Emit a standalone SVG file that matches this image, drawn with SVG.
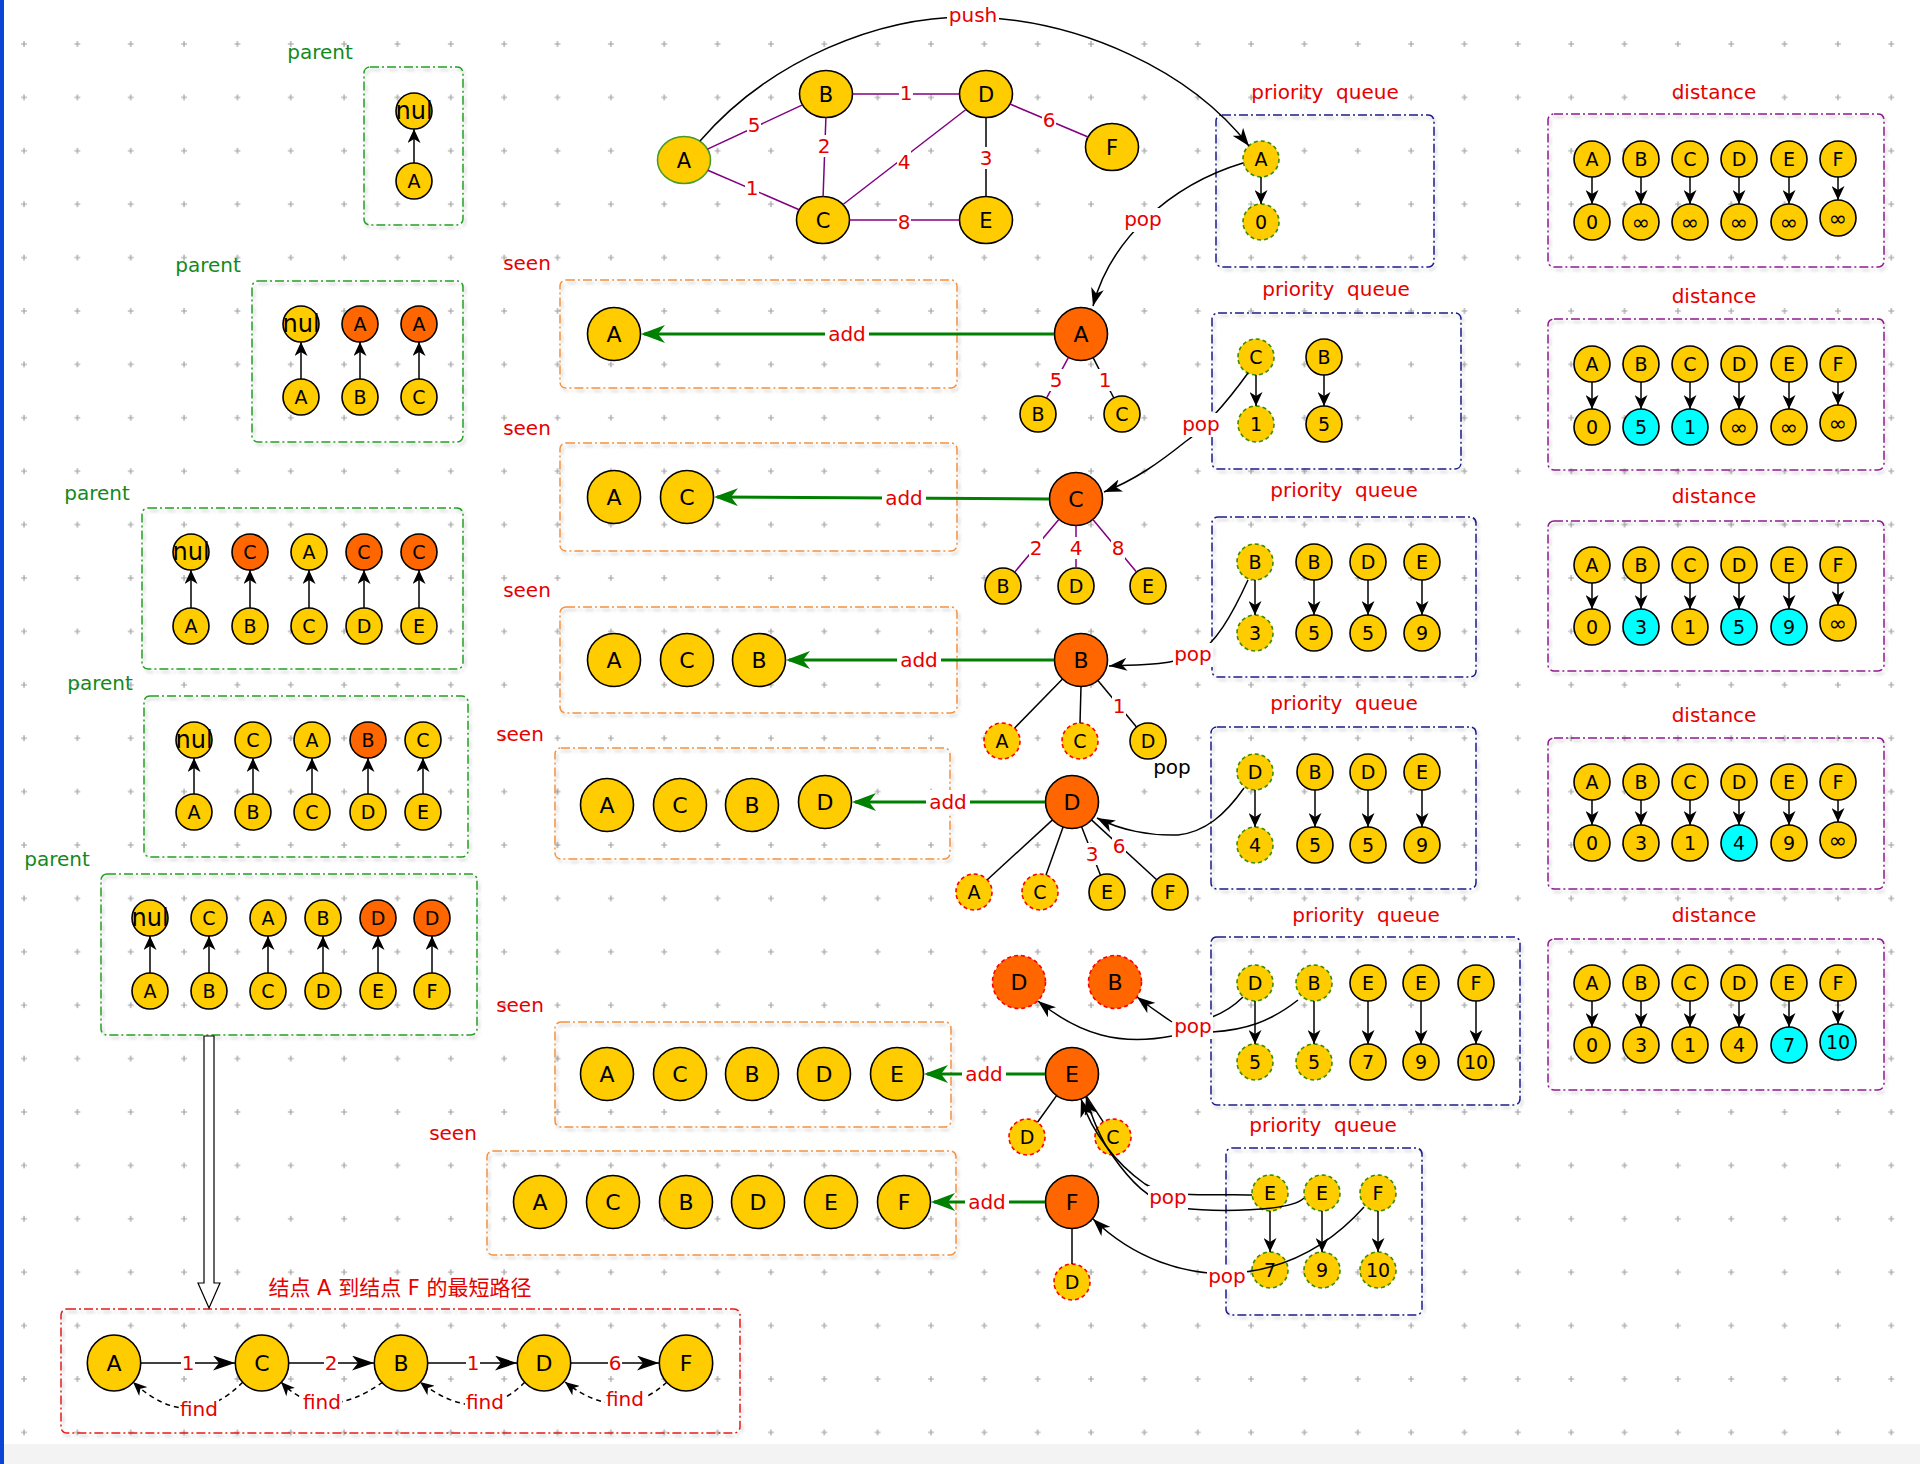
<svg xmlns="http://www.w3.org/2000/svg" width="1920" height="1464" viewBox="0 0 1920 1464">
<style>
text{font-family:"DejaVu Sans","Noto Sans CJK SC",sans-serif;text-anchor:middle;fill:#000}
.y{fill:#ffcc00;stroke:#000;stroke-width:1.6}
.o{fill:#ff6600;stroke:#000;stroke-width:1.6}
.c{fill:#00ffff;stroke:#000;stroke-width:1.6}
.gd{stroke:#3c8c00;stroke-dasharray:4 3}
.rd{stroke:#ff0000;stroke-dasharray:4 3}
.gs{stroke:#4a9a2a}
.s18{font-size:19px}
.s20{font-size:21px}
.s21{font-size:22px}
.nul{font-size:24px}
.inf{font-size:22px}
.lbl{font-size:20px;fill:#e60000}
.blk{font-size:20px;fill:#000}
.grn{font-size:20px;fill:#13891a}
.ttl{font-size:20px;fill:#e60000;white-space:pre}
.bg{fill:#fff}
.ln{fill:none;stroke:#000;stroke-width:1.5}
.pu{fill:none;stroke:#800080;stroke-width:1.5}
.ga{fill:none;stroke:#008000;stroke-width:3}
.dsh{fill:none;stroke:#000;stroke-width:1.5;stroke-dasharray:5 4}
.bx{fill:none;stroke-width:1.5;stroke-dasharray:9 3 2 3;filter:url(#sh)}
.bpar{stroke:#22a022}.bseen{stroke:#f5913e}.bpq{stroke:#1a1a8a}.bdis{stroke:#8e1a8e}.bpath{stroke:#e31b1b}
</style>
<defs>
<pattern id="grid" x="-2.675" y="17.3" width="53.35" height="53.4" patternUnits="userSpaceOnUse"><path d="M23.7,26.7h6M26.7,23.7v6" stroke="#a0a0a0" stroke-width="1.2"/></pattern>
<filter id="sh" x="-5%" y="-5%" width="110%" height="115%"><feDropShadow dx="2" dy="3" stdDeviation="1.5" flood-color="#000" flood-opacity="0.2"/></filter>
<marker id="ms" viewBox="0 0 14 13" refX="14" refY="6.5" markerWidth="14" markerHeight="13" markerUnits="userSpaceOnUse" orient="auto"><path d="M0,0 L14,6.5 L0,13 L4,6.5 z" fill="#000"/></marker>
<marker id="ma" viewBox="0 0 18 13" refX="18" refY="6.5" markerWidth="18" markerHeight="13" markerUnits="userSpaceOnUse" orient="auto"><path d="M0,0 L18,6.5 L0,13 L5,6.5 z" fill="#000"/></marker>
<marker id="mp" viewBox="0 0 22 15" refX="22" refY="7.5" markerWidth="22" markerHeight="15" markerUnits="userSpaceOnUse" orient="auto"><path d="M0,0 L22,7.5 L0,15 L6,7.5 z" fill="#000"/></marker>
<marker id="mf" viewBox="0 0 14 12" refX="14" refY="6" markerWidth="14" markerHeight="12" markerUnits="userSpaceOnUse" orient="auto"><path d="M0,0 L14,6 L0,12 L4,6 z" fill="#000"/></marker>
<marker id="mg" viewBox="0 0 24 18" refX="21" refY="9" markerWidth="24" markerHeight="18" markerUnits="userSpaceOnUse" orient="auto"><path d="M0,0 L24,9 L0,18 L7,9 z" fill="#008000"/></marker>
</defs>
<rect width="1920" height="1464" fill="#fff"/>
<rect x="0" y="1444" width="1920" height="20" fill="#f3f3f3"/>
<rect width="1920" height="1464" fill="url(#grid)"/>
<rect x="0" y="0" width="4" height="1464" fill="#0b45d8"/>

<g id="containers">
<rect class="bx bpar" x="364" y="67" width="99" height="158" rx="6"/>
<text class="grn" x="320" y="59">parent</text>
<rect class="bx bpar" x="252" y="281" width="211" height="161" rx="6"/>
<text class="grn" x="208" y="272">parent</text>
<rect class="bx bpar" x="142" y="508" width="321" height="161" rx="6"/>
<text class="grn" x="97" y="500">parent</text>
<rect class="bx bpar" x="144" y="696" width="324" height="161" rx="6"/>
<text class="grn" x="100" y="690">parent</text>
<rect class="bx bpar" x="101" y="874" width="376" height="161" rx="6"/>
<text class="grn" x="57" y="866">parent</text>

<rect class="bx bseen" x="560" y="280" width="397" height="108" rx="6"/>
<text class="lbl" x="527" y="270">seen</text>
<rect class="bx bseen" x="560" y="443" width="397" height="108" rx="6"/>
<text class="lbl" x="527" y="435">seen</text>
<rect class="bx bseen" x="560" y="607" width="397" height="106" rx="6"/>
<text class="lbl" x="527" y="597">seen</text>
<rect class="bx bseen" x="555" y="748" width="395" height="111" rx="6"/>
<text class="lbl" x="520" y="741">seen</text>
<rect class="bx bseen" x="555" y="1022" width="396" height="105" rx="6"/>
<text class="lbl" x="520" y="1012">seen</text>
<rect class="bx bseen" x="487" y="1151" width="469" height="104" rx="6"/>
<text class="lbl" x="453" y="1140">seen</text>

<rect class="bx bpq" x="1216" y="115" width="218" height="152" rx="6"/>
<text class="ttl" x="1325" y="99">priority  queue</text>
<rect class="bx bpq" x="1212" y="313" width="249" height="156" rx="6"/>
<text class="ttl" x="1336" y="296">priority  queue</text>
<rect class="bx bpq" x="1212" y="517" width="264" height="160" rx="6"/>
<text class="ttl" x="1344" y="497">priority  queue</text>
<rect class="bx bpq" x="1211" y="727" width="265" height="162" rx="6"/>
<text class="ttl" x="1344" y="710">priority  queue</text>
<rect class="bx bpq" x="1211" y="937" width="309" height="168" rx="6"/>
<text class="ttl" x="1366" y="922">priority  queue</text>
<rect class="bx bpq" x="1226" y="1148" width="196" height="167" rx="6"/>
<text class="ttl" x="1323" y="1132">priority  queue</text>

<rect class="bx bdis" x="1548" y="114" width="336" height="153" rx="6"/>
<text class="ttl" x="1714" y="99">distance</text>
<rect class="bx bdis" x="1548" y="319" width="336" height="151" rx="6"/>
<text class="ttl" x="1714" y="303">distance</text>
<rect class="bx bdis" x="1548" y="521" width="336" height="150" rx="6"/>
<text class="ttl" x="1714" y="503">distance</text>
<rect class="bx bdis" x="1548" y="738" width="336" height="151" rx="6"/>
<text class="ttl" x="1714" y="722">distance</text>
<rect class="bx bdis" x="1548" y="939" width="336" height="151" rx="6"/>
<text class="ttl" x="1714" y="922">distance</text>

<rect class="bx bpath" x="61" y="1309" width="679" height="124" rx="6"/>
<text class="ttl" x="400" y="1295" style="font-size:21px">结点 A 到结点 F 的最短路径</text>
</g>

<g id="nodes">
<!-- top graph -->
<g id="g-A"><ellipse class="y gs" cx="684" cy="160" rx="26.5" ry="23.5"/><text class="s20" x="684" y="167.6">A</text></g>
<g id="g-B"><ellipse class="y" cx="826" cy="94" rx="26.5" ry="23.5"/><text class="s20" x="826" y="101.6">B</text></g>
<g id="g-D"><ellipse class="y" cx="986" cy="94" rx="26.5" ry="23.5"/><text class="s20" x="986" y="101.6">D</text></g>
<g id="g-F"><ellipse class="y" cx="1112" cy="147" rx="26.5" ry="23.5"/><text class="s20" x="1112" y="154.6">F</text></g>
<g id="g-C"><ellipse class="y" cx="823" cy="220" rx="26.5" ry="23.5"/><text class="s20" x="823" y="227.6">C</text></g>
<g id="g-E"><ellipse class="y" cx="986" cy="220" rx="26.5" ry="23.5"/><text class="s20" x="986" y="227.6">E</text></g>

<!-- parent box 1 -->
<g id="p1-t1"><circle class="y" cx="414" cy="111" r="18"/><text class="nul" x="414" y="118.5">nul</text></g>
<g id="p1-b1"><circle class="y" cx="414" cy="181" r="18"/><text class="s18" x="414" y="187.8">A</text></g>
<!-- parent box 2 -->
<g id="p2-t1"><circle class="y" cx="301" cy="324" r="18"/><text class="nul" x="301" y="331.5">nul</text></g>
<g id="p2-t2"><circle class="o" cx="360" cy="324" r="18"/><text class="s18" x="360" y="330.8">A</text></g>
<g id="p2-t3"><circle class="o" cx="419" cy="324" r="18"/><text class="s18" x="419" y="330.8">A</text></g>
<g id="p2-b1"><circle class="y" cx="301" cy="397" r="18"/><text class="s18" x="301" y="403.8">A</text></g>
<g id="p2-b2"><circle class="y" cx="360" cy="397" r="18"/><text class="s18" x="360" y="403.8">B</text></g>
<g id="p2-b3"><circle class="y" cx="419" cy="397" r="18"/><text class="s18" x="419" y="403.8">C</text></g>
<!-- parent box 3 -->
<g id="p3-t1"><circle class="y" cx="191" cy="552" r="18"/><text class="nul" x="191" y="559.5">nul</text></g>
<g id="p3-t2"><circle class="o" cx="250" cy="552" r="18"/><text class="s18" x="250" y="558.8">C</text></g>
<g id="p3-t3"><circle class="y" cx="309" cy="552" r="18"/><text class="s18" x="309" y="558.8">A</text></g>
<g id="p3-t4"><circle class="o" cx="364" cy="552" r="18"/><text class="s18" x="364" y="558.8">C</text></g>
<g id="p3-t5"><circle class="o" cx="419" cy="552" r="18"/><text class="s18" x="419" y="558.8">C</text></g>
<g id="p3-b1"><circle class="y" cx="191" cy="626" r="18"/><text class="s18" x="191" y="632.8">A</text></g>
<g id="p3-b2"><circle class="y" cx="250" cy="626" r="18"/><text class="s18" x="250" y="632.8">B</text></g>
<g id="p3-b3"><circle class="y" cx="309" cy="626" r="18"/><text class="s18" x="309" y="632.8">C</text></g>
<g id="p3-b4"><circle class="y" cx="364" cy="626" r="18"/><text class="s18" x="364" y="632.8">D</text></g>
<g id="p3-b5"><circle class="y" cx="419" cy="626" r="18"/><text class="s18" x="419" y="632.8">E</text></g>
<!-- parent box 4 -->
<g id="p4-t1"><circle class="y" cx="194" cy="740" r="18"/><text class="nul" x="194" y="747.5">nul</text></g>
<g id="p4-t2"><circle class="y" cx="253" cy="740" r="18"/><text class="s18" x="253" y="746.8">C</text></g>
<g id="p4-t3"><circle class="y" cx="312" cy="740" r="18"/><text class="s18" x="312" y="746.8">A</text></g>
<g id="p4-t4"><circle class="o" cx="368" cy="740" r="18"/><text class="s18" x="368" y="746.8">B</text></g>
<g id="p4-t5"><circle class="y" cx="423" cy="740" r="18"/><text class="s18" x="423" y="746.8">C</text></g>
<g id="p4-b1"><circle class="y" cx="194" cy="812" r="18"/><text class="s18" x="194" y="818.8">A</text></g>
<g id="p4-b2"><circle class="y" cx="253" cy="812" r="18"/><text class="s18" x="253" y="818.8">B</text></g>
<g id="p4-b3"><circle class="y" cx="312" cy="812" r="18"/><text class="s18" x="312" y="818.8">C</text></g>
<g id="p4-b4"><circle class="y" cx="368" cy="812" r="18"/><text class="s18" x="368" y="818.8">D</text></g>
<g id="p4-b5"><circle class="y" cx="423" cy="812" r="18"/><text class="s18" x="423" y="818.8">E</text></g>
<!-- parent box 5 -->
<g id="p5-t1"><circle class="y" cx="150" cy="918" r="18"/><text class="nul" x="150" y="925.5">nul</text></g>
<g id="p5-t2"><circle class="y" cx="209" cy="918" r="18"/><text class="s18" x="209" y="924.8">C</text></g>
<g id="p5-t3"><circle class="y" cx="268" cy="918" r="18"/><text class="s18" x="268" y="924.8">A</text></g>
<g id="p5-t4"><circle class="y" cx="323" cy="918" r="18"/><text class="s18" x="323" y="924.8">B</text></g>
<g id="p5-t5"><circle class="o" cx="378" cy="918" r="18"/><text class="s18" x="378" y="924.8">D</text></g>
<g id="p5-t6"><circle class="o" cx="432" cy="918" r="18"/><text class="s18" x="432" y="924.8">D</text></g>
<g id="p5-b1"><circle class="y" cx="150" cy="991" r="18"/><text class="s18" x="150" y="997.8">A</text></g>
<g id="p5-b2"><circle class="y" cx="209" cy="991" r="18"/><text class="s18" x="209" y="997.8">B</text></g>
<g id="p5-b3"><circle class="y" cx="268" cy="991" r="18"/><text class="s18" x="268" y="997.8">C</text></g>
<g id="p5-b4"><circle class="y" cx="323" cy="991" r="18"/><text class="s18" x="323" y="997.8">D</text></g>
<g id="p5-b5"><circle class="y" cx="378" cy="991" r="18"/><text class="s18" x="378" y="997.8">E</text></g>
<g id="p5-b6"><circle class="y" cx="432" cy="991" r="18"/><text class="s18" x="432" y="997.8">F</text></g>

<!-- seen sets -->
<g id="s1-A"><circle class="y" cx="614" cy="334" r="26.5"/><text class="s21" x="614" y="342">A</text></g>
<g id="s2-A"><circle class="y" cx="614" cy="497" r="26.5"/><text class="s21" x="614" y="505">A</text></g>
<g id="s2-C"><circle class="y" cx="687" cy="497" r="26.5"/><text class="s21" x="687" y="505">C</text></g>
<g id="s3-A"><circle class="y" cx="614" cy="660" r="26.5"/><text class="s21" x="614" y="668">A</text></g>
<g id="s3-C"><circle class="y" cx="687" cy="660" r="26.5"/><text class="s21" x="687" y="668">C</text></g>
<g id="s3-B"><circle class="y" cx="759" cy="660" r="26.5"/><text class="s21" x="759" y="668">B</text></g>
<g id="s4-A"><circle class="y" cx="607" cy="805" r="26.5"/><text class="s21" x="607" y="813">A</text></g>
<g id="s4-C"><circle class="y" cx="680" cy="805" r="26.5"/><text class="s21" x="680" y="813">C</text></g>
<g id="s4-B"><circle class="y" cx="752" cy="805" r="26.5"/><text class="s21" x="752" y="813">B</text></g>
<g id="s4-D"><circle class="y" cx="825" cy="802" r="26.5"/><text class="s21" x="825" y="810">D</text></g>
<g id="s5-A"><circle class="y" cx="607" cy="1074" r="26.5"/><text class="s21" x="607" y="1082">A</text></g>
<g id="s5-C"><circle class="y" cx="680" cy="1074" r="26.5"/><text class="s21" x="680" y="1082">C</text></g>
<g id="s5-B"><circle class="y" cx="752" cy="1074" r="26.5"/><text class="s21" x="752" y="1082">B</text></g>
<g id="s5-D"><circle class="y" cx="824" cy="1074" r="26.5"/><text class="s21" x="824" y="1082">D</text></g>
<g id="s5-E"><circle class="y" cx="897" cy="1074" r="26.5"/><text class="s21" x="897" y="1082">E</text></g>
<g id="s6-A"><circle class="y" cx="540" cy="1202" r="26.5"/><text class="s21" x="540" y="1210">A</text></g>
<g id="s6-C"><circle class="y" cx="613" cy="1202" r="26.5"/><text class="s21" x="613" y="1210">C</text></g>
<g id="s6-B"><circle class="y" cx="686" cy="1202" r="26.5"/><text class="s21" x="686" y="1210">B</text></g>
<g id="s6-D"><circle class="y" cx="758" cy="1202" r="26.5"/><text class="s21" x="758" y="1210">D</text></g>
<g id="s6-E"><circle class="y" cx="831" cy="1202" r="26.5"/><text class="s21" x="831" y="1210">E</text></g>
<g id="s6-F"><circle class="y" cx="904" cy="1202" r="26.5"/><text class="s21" x="904" y="1210">F</text></g>

<!-- current nodes and neighbours -->
<g id="cur-A"><circle class="o" cx="1081" cy="334" r="26.5"/><text class="s21" x="1081" y="342">A</text></g>
<g id="nA-B"><circle class="y" cx="1038" cy="414" r="18"/><text class="s18" x="1038" y="420.8">B</text></g>
<g id="nA-C"><circle class="y" cx="1122" cy="414" r="18"/><text class="s18" x="1122" y="420.8">C</text></g>
<g id="cur-C"><circle class="o" cx="1076" cy="499" r="26.5"/><text class="s21" x="1076" y="507">C</text></g>
<g id="nC-B"><circle class="y" cx="1003" cy="586" r="18"/><text class="s18" x="1003" y="592.8">B</text></g>
<g id="nC-D"><circle class="y" cx="1076" cy="586" r="18"/><text class="s18" x="1076" y="592.8">D</text></g>
<g id="nC-E"><circle class="y" cx="1148" cy="586" r="18"/><text class="s18" x="1148" y="592.8">E</text></g>
<g id="cur-B"><circle class="o" cx="1081" cy="660" r="26.5"/><text class="s21" x="1081" y="668">B</text></g>
<g id="nB-A"><circle class="y rd" cx="1002" cy="741" r="18"/><text class="s18" x="1002" y="747.8">A</text></g>
<g id="nB-C"><circle class="y rd" cx="1080" cy="741" r="18"/><text class="s18" x="1080" y="747.8">C</text></g>
<g id="nB-D"><circle class="y" cx="1148" cy="741" r="18"/><text class="s18" x="1148" y="747.8">D</text></g>
<g id="cur-D"><circle class="o" cx="1072" cy="802" r="26.5"/><text class="s21" x="1072" y="810">D</text></g>
<g id="nD-A"><circle class="y rd" cx="974" cy="892" r="18"/><text class="s18" x="974" y="898.8">A</text></g>
<g id="nD-C"><circle class="y rd" cx="1040" cy="892" r="18"/><text class="s18" x="1040" y="898.8">C</text></g>
<g id="nD-E"><circle class="y" cx="1107" cy="892" r="18"/><text class="s18" x="1107" y="898.8">E</text></g>
<g id="nD-F"><circle class="y" cx="1170" cy="892" r="18"/><text class="s18" x="1170" y="898.8">F</text></g>
<g id="skip-D"><circle class="o rd" cx="1019" cy="982" r="26.5"/><text class="s21" x="1019" y="990">D</text></g>
<g id="skip-B"><circle class="o rd" cx="1115" cy="982" r="26.5"/><text class="s21" x="1115" y="990">B</text></g>
<g id="cur-E"><circle class="o" cx="1072" cy="1074" r="26.5"/><text class="s21" x="1072" y="1082">E</text></g>
<g id="nE-D"><circle class="y rd" cx="1027" cy="1137" r="18"/><text class="s18" x="1027" y="1143.8">D</text></g>
<g id="nE-C"><circle class="y rd" cx="1113" cy="1137" r="18"/><text class="s18" x="1113" y="1143.8">C</text></g>
<g id="cur-F"><circle class="o" cx="1072" cy="1202" r="26.5"/><text class="s21" x="1072" y="1210">F</text></g>
<g id="nF-D"><circle class="y rd" cx="1072" cy="1282" r="18"/><text class="s18" x="1072" y="1288.8">D</text></g>

<!-- priority queues -->
<g id="q1-A"><circle class="y gd" cx="1261" cy="159" r="18"/><text class="s18" x="1261" y="165.8">A</text></g>
<g id="q1-0"><circle class="y gd" cx="1261" cy="222" r="18"/><text class="s18" x="1261" y="228.8">0</text></g>
<g id="q2-C"><circle class="y gd" cx="1256" cy="357" r="18"/><text class="s18" x="1256" y="363.8">C</text></g>
<g id="q2-1"><circle class="y gd" cx="1256" cy="424" r="18"/><text class="s18" x="1256" y="430.8">1</text></g>
<g id="q2-B"><circle class="y" cx="1324" cy="357" r="18"/><text class="s18" x="1324" y="363.8">B</text></g>
<g id="q2-5"><circle class="y" cx="1324" cy="424" r="18"/><text class="s18" x="1324" y="430.8">5</text></g>
<g id="q3-B1"><circle class="y gd" cx="1255" cy="562" r="18"/><text class="s18" x="1255" y="568.8">B</text></g>
<g id="q3-3"><circle class="y gd" cx="1255" cy="633" r="18"/><text class="s18" x="1255" y="639.8">3</text></g>
<g id="q3-B2"><circle class="y" cx="1314" cy="562" r="18"/><text class="s18" x="1314" y="568.8">B</text></g>
<g id="q3-5a"><circle class="y" cx="1314" cy="633" r="18"/><text class="s18" x="1314" y="639.8">5</text></g>
<g id="q3-D"><circle class="y" cx="1368" cy="562" r="18"/><text class="s18" x="1368" y="568.8">D</text></g>
<g id="q3-5b"><circle class="y" cx="1368" cy="633" r="18"/><text class="s18" x="1368" y="639.8">5</text></g>
<g id="q3-E"><circle class="y" cx="1422" cy="562" r="18"/><text class="s18" x="1422" y="568.8">E</text></g>
<g id="q3-9"><circle class="y" cx="1422" cy="633" r="18"/><text class="s18" x="1422" y="639.8">9</text></g>
<g id="q4-D1"><circle class="y gd" cx="1255" cy="772" r="18"/><text class="s18" x="1255" y="778.8">D</text></g>
<g id="q4-4"><circle class="y gd" cx="1255" cy="845" r="18"/><text class="s18" x="1255" y="851.8">4</text></g>
<g id="q4-B"><circle class="y" cx="1315" cy="772" r="18"/><text class="s18" x="1315" y="778.8">B</text></g>
<g id="q4-5a"><circle class="y" cx="1315" cy="845" r="18"/><text class="s18" x="1315" y="851.8">5</text></g>
<g id="q4-D2"><circle class="y" cx="1368" cy="772" r="18"/><text class="s18" x="1368" y="778.8">D</text></g>
<g id="q4-5b"><circle class="y" cx="1368" cy="845" r="18"/><text class="s18" x="1368" y="851.8">5</text></g>
<g id="q4-E"><circle class="y" cx="1422" cy="772" r="18"/><text class="s18" x="1422" y="778.8">E</text></g>
<g id="q4-9"><circle class="y" cx="1422" cy="845" r="18"/><text class="s18" x="1422" y="851.8">9</text></g>
<g id="q5-D"><circle class="y gd" cx="1255" cy="983" r="18"/><text class="s18" x="1255" y="989.8">D</text></g>
<g id="q5-5a"><circle class="y gd" cx="1255" cy="1062" r="18"/><text class="s18" x="1255" y="1068.8">5</text></g>
<g id="q5-B"><circle class="y gd" cx="1314" cy="983" r="18"/><text class="s18" x="1314" y="989.8">B</text></g>
<g id="q5-5b"><circle class="y gd" cx="1314" cy="1062" r="18"/><text class="s18" x="1314" y="1068.8">5</text></g>
<g id="q5-E1"><circle class="y" cx="1368" cy="983" r="18"/><text class="s18" x="1368" y="989.8">E</text></g>
<g id="q5-7"><circle class="y" cx="1368" cy="1062" r="18"/><text class="s18" x="1368" y="1068.8">7</text></g>
<g id="q5-E2"><circle class="y" cx="1421" cy="983" r="18"/><text class="s18" x="1421" y="989.8">E</text></g>
<g id="q5-9"><circle class="y" cx="1421" cy="1062" r="18"/><text class="s18" x="1421" y="1068.8">9</text></g>
<g id="q5-F"><circle class="y" cx="1476" cy="983" r="18"/><text class="s18" x="1476" y="989.8">F</text></g>
<g id="q5-10"><circle class="y" cx="1476" cy="1062" r="18"/><text class="s18" x="1476" y="1068.8">10</text></g>
<g id="q6-E1"><circle class="y gd" cx="1270" cy="1193" r="18"/><text class="s18" x="1270" y="1199.8">E</text></g>
<g id="q6-7"><circle class="y gd" cx="1270" cy="1270" r="18"/><text class="s18" x="1270" y="1276.8">7</text></g>
<g id="q6-E2"><circle class="y gd" cx="1322" cy="1193" r="18"/><text class="s18" x="1322" y="1199.8">E</text></g>
<g id="q6-9"><circle class="y gd" cx="1322" cy="1270" r="18"/><text class="s18" x="1322" y="1276.8">9</text></g>
<g id="q6-F"><circle class="y gd" cx="1378" cy="1193" r="18"/><text class="s18" x="1378" y="1199.8">F</text></g>
<g id="q6-10"><circle class="y gd" cx="1378" cy="1270" r="18"/><text class="s18" x="1378" y="1276.8">10</text></g>

<!-- distance tables -->
<g id="d1-A"><circle class="y" cx="1592" cy="159" r="18"/><text class="s18" x="1592" y="165.8">A</text></g>
<g id="d1-B"><circle class="y" cx="1641" cy="159" r="18"/><text class="s18" x="1641" y="165.8">B</text></g>
<g id="d1-C"><circle class="y" cx="1690" cy="159" r="18"/><text class="s18" x="1690" y="165.8">C</text></g>
<g id="d1-D"><circle class="y" cx="1739" cy="159" r="18"/><text class="s18" x="1739" y="165.8">D</text></g>
<g id="d1-E"><circle class="y" cx="1789" cy="159" r="18"/><text class="s18" x="1789" y="165.8">E</text></g>
<g id="d1-F"><circle class="y" cx="1838" cy="159" r="18"/><text class="s18" x="1838" y="165.8">F</text></g>
<g id="d1-vA"><circle class="y" cx="1592" cy="222" r="18"/><text class="s18" x="1592" y="228.8">0</text></g>
<g id="d1-vB"><circle class="y" cx="1641" cy="222" r="18"/><text class="inf" x="1641" y="229.5">∞</text></g>
<g id="d1-vC"><circle class="y" cx="1690" cy="222" r="18"/><text class="inf" x="1690" y="229.5">∞</text></g>
<g id="d1-vD"><circle class="y" cx="1739" cy="222" r="18"/><text class="inf" x="1739" y="229.5">∞</text></g>
<g id="d1-vE"><circle class="y" cx="1789" cy="222" r="18"/><text class="inf" x="1789" y="229.5">∞</text></g>
<g id="d1-vF"><circle class="y" cx="1838" cy="218" r="18"/><text class="inf" x="1838" y="225.5">∞</text></g>

<g id="d2-A"><circle class="y" cx="1592" cy="364" r="18"/><text class="s18" x="1592" y="370.8">A</text></g>
<g id="d2-B"><circle class="y" cx="1641" cy="364" r="18"/><text class="s18" x="1641" y="370.8">B</text></g>
<g id="d2-C"><circle class="y" cx="1690" cy="364" r="18"/><text class="s18" x="1690" y="370.8">C</text></g>
<g id="d2-D"><circle class="y" cx="1739" cy="364" r="18"/><text class="s18" x="1739" y="370.8">D</text></g>
<g id="d2-E"><circle class="y" cx="1789" cy="364" r="18"/><text class="s18" x="1789" y="370.8">E</text></g>
<g id="d2-F"><circle class="y" cx="1838" cy="364" r="18"/><text class="s18" x="1838" y="370.8">F</text></g>
<g id="d2-vA"><circle class="y" cx="1592" cy="427" r="18"/><text class="s18" x="1592" y="433.8">0</text></g>
<g id="d2-vB"><circle class="c" cx="1641" cy="427" r="18"/><text class="s18" x="1641" y="433.8">5</text></g>
<g id="d2-vC"><circle class="c" cx="1690" cy="427" r="18"/><text class="s18" x="1690" y="433.8">1</text></g>
<g id="d2-vD"><circle class="y" cx="1739" cy="427" r="18"/><text class="inf" x="1739" y="434.5">∞</text></g>
<g id="d2-vE"><circle class="y" cx="1789" cy="427" r="18"/><text class="inf" x="1789" y="434.5">∞</text></g>
<g id="d2-vF"><circle class="y" cx="1838" cy="423" r="18"/><text class="inf" x="1838" y="430.5">∞</text></g>

<g id="d3-A"><circle class="y" cx="1592" cy="565" r="18"/><text class="s18" x="1592" y="571.8">A</text></g>
<g id="d3-B"><circle class="y" cx="1641" cy="565" r="18"/><text class="s18" x="1641" y="571.8">B</text></g>
<g id="d3-C"><circle class="y" cx="1690" cy="565" r="18"/><text class="s18" x="1690" y="571.8">C</text></g>
<g id="d3-D"><circle class="y" cx="1739" cy="565" r="18"/><text class="s18" x="1739" y="571.8">D</text></g>
<g id="d3-E"><circle class="y" cx="1789" cy="565" r="18"/><text class="s18" x="1789" y="571.8">E</text></g>
<g id="d3-F"><circle class="y" cx="1838" cy="565" r="18"/><text class="s18" x="1838" y="571.8">F</text></g>
<g id="d3-vA"><circle class="y" cx="1592" cy="627" r="18"/><text class="s18" x="1592" y="633.8">0</text></g>
<g id="d3-vB"><circle class="c" cx="1641" cy="627" r="18"/><text class="s18" x="1641" y="633.8">3</text></g>
<g id="d3-vC"><circle class="y" cx="1690" cy="627" r="18"/><text class="s18" x="1690" y="633.8">1</text></g>
<g id="d3-vD"><circle class="c" cx="1739" cy="627" r="18"/><text class="s18" x="1739" y="633.8">5</text></g>
<g id="d3-vE"><circle class="c" cx="1789" cy="627" r="18"/><text class="s18" x="1789" y="633.8">9</text></g>
<g id="d3-vF"><circle class="y" cx="1838" cy="623" r="18"/><text class="inf" x="1838" y="630.5">∞</text></g>

<g id="d4-A"><circle class="y" cx="1592" cy="782" r="18"/><text class="s18" x="1592" y="788.8">A</text></g>
<g id="d4-B"><circle class="y" cx="1641" cy="782" r="18"/><text class="s18" x="1641" y="788.8">B</text></g>
<g id="d4-C"><circle class="y" cx="1690" cy="782" r="18"/><text class="s18" x="1690" y="788.8">C</text></g>
<g id="d4-D"><circle class="y" cx="1739" cy="782" r="18"/><text class="s18" x="1739" y="788.8">D</text></g>
<g id="d4-E"><circle class="y" cx="1789" cy="782" r="18"/><text class="s18" x="1789" y="788.8">E</text></g>
<g id="d4-F"><circle class="y" cx="1838" cy="782" r="18"/><text class="s18" x="1838" y="788.8">F</text></g>
<g id="d4-vA"><circle class="y" cx="1592" cy="843" r="18"/><text class="s18" x="1592" y="849.8">0</text></g>
<g id="d4-vB"><circle class="y" cx="1641" cy="843" r="18"/><text class="s18" x="1641" y="849.8">3</text></g>
<g id="d4-vC"><circle class="y" cx="1690" cy="843" r="18"/><text class="s18" x="1690" y="849.8">1</text></g>
<g id="d4-vD"><circle class="c" cx="1739" cy="843" r="18"/><text class="s18" x="1739" y="849.8">4</text></g>
<g id="d4-vE"><circle class="y" cx="1789" cy="843" r="18"/><text class="s18" x="1789" y="849.8">9</text></g>
<g id="d4-vF"><circle class="y" cx="1838" cy="840" r="18"/><text class="inf" x="1838" y="847.5">∞</text></g>

<g id="d5-A"><circle class="y" cx="1592" cy="983" r="18"/><text class="s18" x="1592" y="989.8">A</text></g>
<g id="d5-B"><circle class="y" cx="1641" cy="983" r="18"/><text class="s18" x="1641" y="989.8">B</text></g>
<g id="d5-C"><circle class="y" cx="1690" cy="983" r="18"/><text class="s18" x="1690" y="989.8">C</text></g>
<g id="d5-D"><circle class="y" cx="1739" cy="983" r="18"/><text class="s18" x="1739" y="989.8">D</text></g>
<g id="d5-E"><circle class="y" cx="1789" cy="983" r="18"/><text class="s18" x="1789" y="989.8">E</text></g>
<g id="d5-F"><circle class="y" cx="1838" cy="983" r="18"/><text class="s18" x="1838" y="989.8">F</text></g>
<g id="d5-vA"><circle class="y" cx="1592" cy="1045" r="18"/><text class="s18" x="1592" y="1051.8">0</text></g>
<g id="d5-vB"><circle class="y" cx="1641" cy="1045" r="18"/><text class="s18" x="1641" y="1051.8">3</text></g>
<g id="d5-vC"><circle class="y" cx="1690" cy="1045" r="18"/><text class="s18" x="1690" y="1051.8">1</text></g>
<g id="d5-vD"><circle class="y" cx="1739" cy="1045" r="18"/><text class="s18" x="1739" y="1051.8">4</text></g>
<g id="d5-vE"><circle class="c" cx="1789" cy="1045" r="18"/><text class="s18" x="1789" y="1051.8">7</text></g>
<g id="d5-vF"><circle class="c" cx="1838" cy="1042" r="18"/><text class="s18" x="1838" y="1048.8">10</text></g>

<!-- shortest path -->
<g id="path-A"><ellipse class="y" cx="114" cy="1363" rx="26.7" ry="28"/><text class="s21" x="114" y="1371">A</text></g>
<g id="path-C"><ellipse class="y" cx="262" cy="1363" rx="26.7" ry="28"/><text class="s21" x="262" y="1371">C</text></g>
<g id="path-B"><ellipse class="y" cx="401" cy="1363" rx="26.7" ry="28"/><text class="s21" x="401" y="1371">B</text></g>
<g id="path-D"><ellipse class="y" cx="544" cy="1363" rx="26.7" ry="28"/><text class="s21" x="544" y="1371">D</text></g>
<g id="path-F"><ellipse class="y" cx="686" cy="1363" rx="26.7" ry="28"/><text class="s21" x="686" y="1371">F</text></g>
</g>

<g id="connectors">
<!-- top graph edges -->
<path class="pu" d="M707.5,149.1 L802.5,104.9"/>
<path class="pu" d="M707.8,170.3 L799.2,209.7"/>
<path class="pu" d="M852.5,94 L959.5,94"/>
<path class="pu" d="M825.9,117.5 L823.1,196.5"/>
<path class="pu" d="M843,204.5 L966,109.5"/>
<path class="ln" d="M986,117.5 L986,196.5"/>
<path class="pu" d="M1009.9,104 L1088.1,137"/>
<path class="pu" d="M849.5,220 L959.5,220"/>
<rect class="bg" x="747" y="114" width="14" height="22"/><text class="lbl" x="754" y="132">5</text>
<rect class="bg" x="745" y="177" width="14" height="22"/><text class="lbl" x="752" y="195">1</text>
<rect class="bg" x="899" y="82" width="14" height="22"/><text class="lbl" x="906" y="100">1</text>
<rect class="bg" x="817" y="135" width="14" height="22"/><text class="lbl" x="824" y="153">2</text>
<rect class="bg" x="897" y="151" width="14" height="22"/><text class="lbl" x="904" y="169">4</text>
<rect class="bg" x="979" y="147" width="14" height="22"/><text class="lbl" x="986" y="165">3</text>
<rect class="bg" x="1042" y="109" width="14" height="22"/><text class="lbl" x="1049" y="127">6</text>
<rect class="bg" x="897" y="211" width="14" height="22"/><text class="lbl" x="904" y="229">8</text>

<!-- push / pop -->
<path class="ln" d="M700,141 C770,60 880,15 973,17 C1080,20 1190,70 1249,146" marker-end="url(#ma)"/>
<rect class="bg" x="947" y="5" width="52" height="24"/><text class="lbl" x="973" y="22">push</text>
<path class="ln" d="M1243,163 C1170,185 1110,240 1093,306" marker-end="url(#ma)"/>
<rect class="bg" x="1123" y="208" width="40" height="24"/><text class="lbl" x="1143" y="226">pop</text>
<path class="ln" d="M1248,373 C1225,405 1200,432 1185,442 C1160,462 1135,480 1104,492" marker-end="url(#ma)"/>
<rect class="bg" x="1181" y="413" width="40" height="24"/><text class="lbl" x="1201" y="431">pop</text>
<path class="ln" d="M1248,580 C1232,615 1215,645 1195,655 C1160,668 1130,664 1109,666" marker-end="url(#ma)"/>
<rect class="bg" x="1173" y="643" width="40" height="24"/><text class="lbl" x="1193" y="661">pop</text>
<path class="ln" d="M1244,788 C1225,815 1205,832 1178,835 C1150,836 1120,830 1097,818" marker-end="url(#ma)"/>
<text class="blk" x="1172" y="774">pop</text>
<path class="ln" d="M1243,997 C1235,1005 1225,1012 1212,1017"/>
<path class="ln" d="M1298,1000 C1270,1022 1245,1030 1212,1032"/>
<path class="ln" d="M1172,1022 C1160,1014 1150,1007 1137,997" marker-end="url(#ma)"/>
<path class="ln" d="M1172,1036 C1120,1046 1080,1035 1038,1001" marker-end="url(#ma)"/>
<rect class="bg" x="1173" y="1015" width="40" height="24"/><text class="lbl" x="1193" y="1033">pop</text>
<path class="ln" d="M1252,1195 C1215,1193 1170,1200 1145,1184 C1115,1163 1092,1132 1081,1099" marker-end="url(#ma)"/>
<path class="ln" d="M1304,1198 C1290,1212 1215,1212 1180,1208 C1150,1204 1128,1178 1112,1155 C1100,1138 1092,1118 1086,1097" marker-end="url(#ma)"/>
<rect class="bg" x="1148" y="1186" width="40" height="24"/><text class="lbl" x="1168" y="1204">pop</text>
<path class="ln" d="M1364,1207 C1330,1245 1290,1266 1245,1272 C1185,1280 1130,1255 1093,1219" marker-end="url(#ma)"/>
<rect class="bg" x="1207" y="1265" width="40" height="24"/><text class="lbl" x="1227" y="1283">pop</text>

<!-- add arrows -->
<path class="ga" d="M1054,334 H644" marker-end="url(#mg)"/>
<rect class="bg" x="825" y="322" width="44" height="24"/><text class="lbl" x="847" y="341">add</text>
<path class="ga" d="M1049,499 L717,497" marker-end="url(#mg)"/>
<rect class="bg" x="882" y="486" width="44" height="24"/><text class="lbl" x="904" y="505">add</text>
<path class="ga" d="M1054,660 H789" marker-end="url(#mg)"/>
<rect class="bg" x="897" y="648" width="44" height="24"/><text class="lbl" x="919" y="667">add</text>
<path class="ga" d="M1045,802 H855" marker-end="url(#mg)"/>
<rect class="bg" x="926" y="790" width="44" height="24"/><text class="lbl" x="948" y="809">add</text>
<path class="ga" d="M1045,1074 H927" marker-end="url(#mg)"/>
<rect class="bg" x="962" y="1062" width="44" height="24"/><text class="lbl" x="984" y="1081">add</text>
<path class="ga" d="M1045,1202 H934" marker-end="url(#mg)"/>
<rect class="bg" x="965" y="1190" width="44" height="24"/><text class="lbl" x="987" y="1209">add</text>

<!-- neighbour edges -->
<path class="pu" d="M1068.5,357.3 L1046.5,398.1"/>
<path class="ln" d="M1093.1,357.6 L1113.8,398"/>
<rect class="bg" x="1049" y="369" width="14" height="22"/><text class="lbl" x="1056" y="387">5</text>
<rect class="bg" x="1098" y="369" width="14" height="22"/><text class="lbl" x="1105" y="387">1</text>
<path class="pu" d="M1059,519.3 L1014.6,572.2"/>
<path class="pu" d="M1076,525.5 L1076,568"/>
<path class="pu" d="M1092.9,519.4 L1136.5,572.1"/>
<rect class="bg" x="1029" y="537" width="14" height="22"/><text class="lbl" x="1036" y="555">2</text>
<rect class="bg" x="1069" y="537" width="14" height="22"/><text class="lbl" x="1076" y="555">4</text>
<rect class="bg" x="1111" y="537" width="14" height="22"/><text class="lbl" x="1118" y="555">8</text>
<path class="ln" d="M1062.5,679 L1014.6,728.1"/>
<path class="ln" d="M1081,686.5 L1080,723"/>
<path class="ln" d="M1097.9,680.4 L1136.5,727.1"/>
<rect class="bg" x="1112" y="695" width="14" height="22"/><text class="lbl" x="1119" y="713">1</text>
<path class="ln" d="M1052.5,819.9 L987.3,879.8"/>
<path class="ln" d="M1063.1,827 L1046,875"/>
<path class="ln" d="M1081.6,826.7 L1100.5,875.2"/>
<path class="ln" d="M1091.5,819.9 L1156.7,879.8"/>
<rect class="bg" x="1085" y="843" width="14" height="22"/><text class="lbl" x="1092" y="861">3</text>
<rect class="bg" x="1112" y="835" width="14" height="22"/><text class="lbl" x="1119" y="853">6</text>
<path class="ln" d="M1056.6,1095.6 L1037.5,1122.3"/>
<path class="ln" d="M1086.4,1096.2 L1103.2,1121.9"/>
<path class="ln" d="M1072,1228.5 L1072,1264" stroke="#444"/>

<!-- parent arrows -->
<path class="ln" d="M414,163 V129" marker-end="url(#ms)"/>
<path class="ln" d="M301,379 V342" marker-end="url(#ms)"/>
<path class="ln" d="M360,379 V342" marker-end="url(#ms)"/>
<path class="ln" d="M419,379 V342" marker-end="url(#ms)"/>
<path class="ln" d="M191,608 V570" marker-end="url(#ms)"/>
<path class="ln" d="M250,608 V570" marker-end="url(#ms)"/>
<path class="ln" d="M309,608 V570" marker-end="url(#ms)"/>
<path class="ln" d="M364,608 V570" marker-end="url(#ms)"/>
<path class="ln" d="M419,608 V570" marker-end="url(#ms)"/>
<path class="ln" d="M194,794 V758" marker-end="url(#ms)"/>
<path class="ln" d="M253,794 V758" marker-end="url(#ms)"/>
<path class="ln" d="M312,794 V758" marker-end="url(#ms)"/>
<path class="ln" d="M368,794 V758" marker-end="url(#ms)"/>
<path class="ln" d="M423,794 V758" marker-end="url(#ms)"/>
<path class="ln" d="M150,973 V936" marker-end="url(#ms)"/>
<path class="ln" d="M209,973 V936" marker-end="url(#ms)"/>
<path class="ln" d="M268,973 V936" marker-end="url(#ms)"/>
<path class="ln" d="M323,973 V936" marker-end="url(#ms)"/>
<path class="ln" d="M378,973 V936" marker-end="url(#ms)"/>
<path class="ln" d="M432,973 V936" marker-end="url(#ms)"/>

<!-- queue arrows -->
<path class="ln" d="M1261,177 V204" marker-end="url(#ms)"/>
<path class="ln" d="M1256,375 V406" marker-end="url(#ms)"/>
<path class="ln" d="M1324,375 V406" marker-end="url(#ms)"/>
<path class="ln" d="M1255,580 V615" marker-end="url(#ms)"/>
<path class="ln" d="M1314,580 V615" marker-end="url(#ms)"/>
<path class="ln" d="M1368,580 V615" marker-end="url(#ms)"/>
<path class="ln" d="M1422,580 V615" marker-end="url(#ms)"/>
<path class="ln" d="M1255,790 V827" marker-end="url(#ms)"/>
<path class="ln" d="M1315,790 V827" marker-end="url(#ms)"/>
<path class="ln" d="M1368,790 V827" marker-end="url(#ms)"/>
<path class="ln" d="M1422,790 V827" marker-end="url(#ms)"/>
<path class="ln" d="M1255,1001 V1044" marker-end="url(#ms)"/>
<path class="ln" d="M1314,1001 V1044" marker-end="url(#ms)"/>
<path class="ln" d="M1368,1001 V1044" marker-end="url(#ms)"/>
<path class="ln" d="M1421,1001 V1044" marker-end="url(#ms)"/>
<path class="ln" d="M1476,1001 V1044" marker-end="url(#ms)"/>
<path class="ln" d="M1270,1211 V1252" marker-end="url(#ms)"/>
<path class="ln" d="M1322,1211 V1252" marker-end="url(#ms)"/>
<path class="ln" d="M1378,1211 V1252" marker-end="url(#ms)"/>

<!-- distance arrows -->
<path class="ln" d="M1592,177 V204" marker-end="url(#ms)"/>
<path class="ln" d="M1641,177 V204" marker-end="url(#ms)"/>
<path class="ln" d="M1690,177 V204" marker-end="url(#ms)"/>
<path class="ln" d="M1739,177 V204" marker-end="url(#ms)"/>
<path class="ln" d="M1789,177 V204" marker-end="url(#ms)"/>
<path class="ln" d="M1838,177 V200" marker-end="url(#ms)"/>
<path class="ln" d="M1592,382 V409" marker-end="url(#ms)"/>
<path class="ln" d="M1641,382 V409" marker-end="url(#ms)"/>
<path class="ln" d="M1690,382 V409" marker-end="url(#ms)"/>
<path class="ln" d="M1739,382 V409" marker-end="url(#ms)"/>
<path class="ln" d="M1789,382 V409" marker-end="url(#ms)"/>
<path class="ln" d="M1838,382 V405" marker-end="url(#ms)"/>
<path class="ln" d="M1592,583 V609" marker-end="url(#ms)"/>
<path class="ln" d="M1641,583 V609" marker-end="url(#ms)"/>
<path class="ln" d="M1690,583 V609" marker-end="url(#ms)"/>
<path class="ln" d="M1739,583 V609" marker-end="url(#ms)"/>
<path class="ln" d="M1789,583 V609" marker-end="url(#ms)"/>
<path class="ln" d="M1838,583 V605" marker-end="url(#ms)"/>
<path class="ln" d="M1592,800 V825" marker-end="url(#ms)"/>
<path class="ln" d="M1641,800 V825" marker-end="url(#ms)"/>
<path class="ln" d="M1690,800 V825" marker-end="url(#ms)"/>
<path class="ln" d="M1739,800 V825" marker-end="url(#ms)"/>
<path class="ln" d="M1789,800 V825" marker-end="url(#ms)"/>
<path class="ln" d="M1838,800 V822" marker-end="url(#ms)"/>
<path class="ln" d="M1592,1001 V1027" marker-end="url(#ms)"/>
<path class="ln" d="M1641,1001 V1027" marker-end="url(#ms)"/>
<path class="ln" d="M1690,1001 V1027" marker-end="url(#ms)"/>
<path class="ln" d="M1739,1001 V1027" marker-end="url(#ms)"/>
<path class="ln" d="M1789,1001 V1027" marker-end="url(#ms)"/>
<path class="ln" d="M1838,1001 V1024" marker-end="url(#ms)"/>

<!-- flex arrow to shortest path -->
<path d="M204,1036 H214 V1283 H220 L209,1308 L198,1283 H204 Z" fill="#fff" stroke="#000" stroke-width="1.2"/>

<!-- shortest path edges -->
<path class="ln" d="M141,1363 H235" marker-end="url(#mp)"/>
<path class="ln" d="M289,1363 H374" marker-end="url(#mp)"/>
<path class="ln" d="M428,1363 H517" marker-end="url(#mp)"/>
<path class="ln" d="M571,1363 H659" marker-end="url(#mp)"/>
<rect class="bg" x="181" y="1352" width="14" height="22"/><text class="lbl" x="188" y="1370">1</text>
<rect class="bg" x="324" y="1352" width="14" height="22"/><text class="lbl" x="331" y="1370">2</text>
<rect class="bg" x="466" y="1352" width="14" height="22"/><text class="lbl" x="473" y="1370">1</text>
<rect class="bg" x="608" y="1352" width="14" height="22"/><text class="lbl" x="615" y="1370">6</text>
<path class="dsh" d="M243,1382 Q190,1435 133,1382" marker-end="url(#mf)"/>
<path class="dsh" d="M383,1382 Q322,1425 281,1382" marker-end="url(#mf)"/>
<path class="dsh" d="M525,1382 Q480,1428 420,1382" marker-end="url(#mf)"/>
<path class="dsh" d="M667,1382 Q620,1425 565,1382" marker-end="url(#mf)"/>
<rect class="bg" x="179" y="1398" width="40" height="24"/><text class="lbl" x="199" y="1416">find</text>
<rect class="bg" x="302" y="1391" width="40" height="24"/><text class="lbl" x="322" y="1409">find</text>
<rect class="bg" x="465" y="1391" width="40" height="24"/><text class="lbl" x="485" y="1409">find</text>
<rect class="bg" x="605" y="1388" width="40" height="24"/><text class="lbl" x="625" y="1406">find</text>
</g>
</svg>
